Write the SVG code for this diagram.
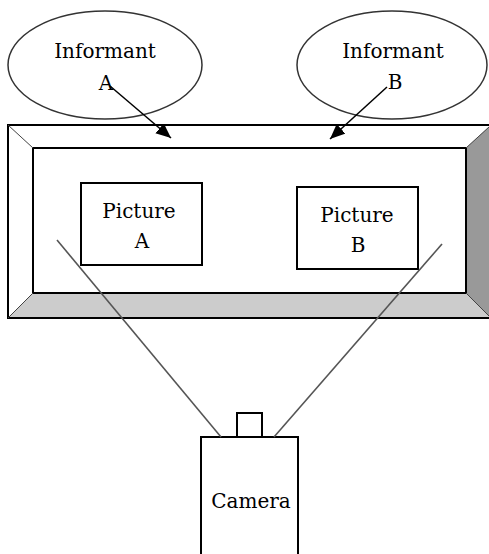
<svg xmlns="http://www.w3.org/2000/svg" width="489" height="554" viewBox="0 0 489 554">
  <style>
    .txt { font-family: "DejaVu Serif", "Liberation Serif", serif; font-size: 20px; fill: #000; text-anchor: middle; }
    .box { fill: #fff; stroke: #000; stroke-width: 2; }
    .oval { fill: #fff; stroke: #333; stroke-width: 1.5; }
    .edge { stroke: #000; stroke-width: 1.5; fill: none; }
    .view { stroke: #555; stroke-width: 1.6; fill: none; }
  </style>
  <defs>
    <marker id="arrow" markerWidth="16" markerHeight="14" refX="15" refY="6.5" markerUnits="userSpaceOnUse" orient="auto">
      <path d="M0,0 L15,6.5 L0,13 z" fill="#000" />
    </marker>
  </defs>
  <rect width="489" height="554" fill="#fff" />

  <!-- bevelled display board -->
  <g id="board">
    <polygon points="8,125 491,125 466,148 33,148" fill="#fff" />
    <polygon points="8,125 33,148 33,293 8,318" fill="#fff" />
    <polygon points="8,318 33,293 466,293 491,318" fill="#cccccc" />
    <polygon points="466,148 491,125 491,318 466,293" fill="#999999" />
    <rect x="8" y="125" width="483" height="193" fill="none" stroke="#000" stroke-width="2" />
    <rect x="33" y="148" width="433" height="145" fill="#fff" stroke="#000" stroke-width="2" />
    <line x1="8" y1="125" x2="33" y2="148" stroke="#444" stroke-width="1" />
    <line x1="8" y1="318" x2="33" y2="293" stroke="#444" stroke-width="1" />
    <line x1="466" y1="148" x2="489" y2="127" stroke="#444" stroke-width="1" />
    <line x1="466" y1="293" x2="489" y2="316" stroke="#444" stroke-width="1" />
  </g>

  <g id="pictureA">
    <rect class="box" x="81" y="183" width="121" height="82" />
    <text class="txt" x="139" y="218">Picture</text>
    <text class="txt" x="142" y="248">A</text>
  </g>

  <g id="pictureB">
    <rect class="box" x="297" y="187" width="121" height="82" />
    <text class="txt" x="357" y="222">Picture</text>
    <text class="txt" x="358" y="252">B</text>
  </g>

  <g id="informantA">
    <ellipse class="oval" cx="105" cy="65" rx="97" ry="54" />
    <text class="txt" x="105" y="58">Informant</text>
    <text class="txt" x="106" y="90">A</text>
  </g>

  <g id="informantB">
    <ellipse class="oval" cx="392" cy="65" rx="95" ry="54" />
    <text class="txt" x="393" y="58">Informant</text>
    <text class="txt" x="395" y="89">B</text>
  </g>

  <g id="camera">
    <rect class="box" x="237" y="413" width="25" height="24" />
    <rect class="box" x="201" y="437" width="97" height="130" />
    <text class="txt" x="251" y="508">Camera</text>
  </g>

  <g id="connectors">
    <line class="edge" x1="110" y1="86" x2="171" y2="138" marker-end="url(#arrow)" />
    <line class="edge" x1="387" y1="87" x2="330" y2="139" marker-end="url(#arrow)" />
    <line class="view" x1="57" y1="240" x2="221" y2="437" />
    <line class="view" x1="442" y1="244" x2="274" y2="437" />
  </g>
</svg>
